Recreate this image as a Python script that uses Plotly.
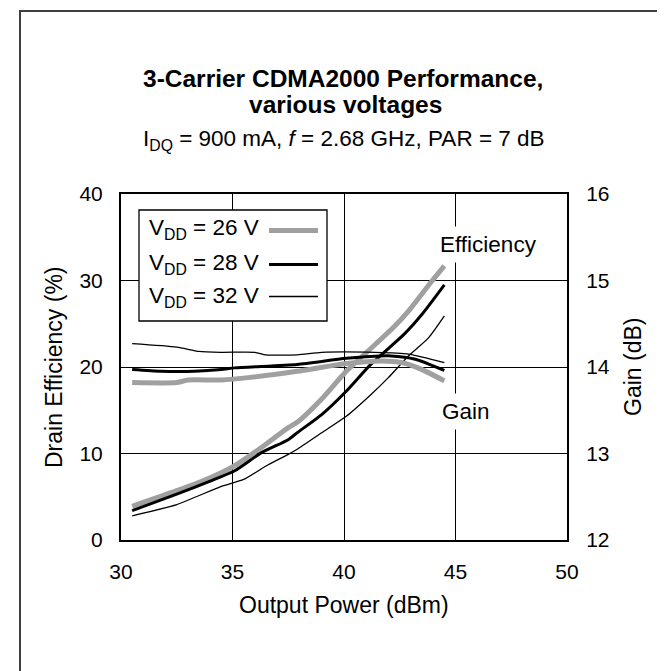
import plotly.graph_objects as go

# ---------------- data ----------------
series_names = ["V<sub>DD</sub> = 26 V", "V<sub>DD</sub> = 28 V", "V<sub>DD</sub> = 32 V"]

eff26_x = [30.5, 32.5, 34.0, 35.1, 36.3, 37.5, 37.9, 39.0, 40.1, 41.4, 42.3, 42.9, 43.9, 44.5]
eff26_y = [3.9, 5.7, 7.2, 8.6, 10.7, 13.0, 13.6, 16.3, 19.5, 22.6, 24.8, 26.5, 29.8, 31.7]

eff28_x = [30.5, 32.5, 34.0, 35.1, 36.3, 37.5, 37.9, 39.0, 40.1, 41.2, 42.7, 43.5, 44.5]
eff28_y = [3.4, 5.3, 6.8, 8.0, 10.1, 11.6, 12.4, 14.5, 17.2, 20.3, 23.8, 26.1, 29.5]

eff32_x = [30.5, 32.5, 34.5, 35.5, 36.6, 37.5, 37.9, 39.0, 40.1, 41.2, 42.0, 42.9, 43.8, 44.5]
eff32_y = [2.8, 4.1, 6.2, 7.0, 8.7, 9.9, 10.5, 12.4, 14.3, 16.8, 18.8, 21.3, 23.4, 25.9]

gain26_x = [30.5, 32.5, 33.0, 34.5, 35.8, 37.9, 40.1, 41.7, 42.6, 43.5, 44.5]
gain26_y = [13.82, 13.82, 13.85, 13.85, 13.88, 13.95, 14.04, 14.07, 14.05, 13.97, 13.84]

gain28_x = [30.5, 31.8, 33.3, 34.5, 35.1, 37.9, 40.1, 42.0, 43.2, 44.5]
gain28_y = [13.97, 13.95, 13.95, 13.97, 13.99, 14.03, 14.10, 14.13, 14.09, 13.96]

gain32_x = [30.5, 32.5, 33.5, 34.5, 36.0, 36.5, 37.9, 39.0, 41.4, 42.9, 44.5]
gain32_y = [14.27, 14.23, 14.18, 14.17, 14.17, 14.14, 14.14, 14.17, 14.17, 14.15, 14.05]

x_ticks = [30, 35, 40, 45, 50]
eff_ticks = [0, 10, 20, 30, 40]
gain_ticks = [12, 13, 14, 15, 16]

# ---------------- styles ----------------
GRAY = "#a0a0a0"
styles = [dict(color=GRAY, width=5), dict(color="black", width=3), dict(color="black", width=1.3)]
FONT = "Liberation Sans, Arial, sans-serif"
TICK = 21
LAB = 22.5

fig = go.Figure()
eff_sets = [(eff26_x, eff26_y), (eff28_x, eff28_y), (eff32_x, eff32_y)]
gain_sets = [(gain26_x, gain26_y), (gain28_x, gain28_y), (gain32_x, gain32_y)]
for name, st, (gx, gy) in zip(series_names, styles, gain_sets):
    fig.add_trace(go.Scatter(x=gx, y=gy, yaxis="y2", mode="lines",
                             line=dict(shape="spline", smoothing=0.6, **st), name=name, showlegend=False))
for name, st, (ex, ey) in zip(series_names, styles, eff_sets):
    fig.add_trace(go.Scatter(x=ex, y=ey, mode="lines",
                             line=dict(shape="spline", smoothing=0.6, **st), name=name, showlegend=False))

W, H = 665, 671
L, R, T, B = 113, 106, 186, 139
pw, ph = W - L - R, H - T - B


def px(xpix):
    return (xpix - L) / pw


def py(ypix):
    return (H - B - ypix) / ph


shapes = []
annotations = []
# outer frame
shapes.append(dict(type="rect", xref="paper", yref="paper", x0=px(12), x1=px(653), y0=py(690), y1=py(3),
                   line=dict(color="#404040", width=2), layer="below"))
# legend box
shapes.append(dict(type="rect", xref="paper", yref="paper", x0=px(131), x1=px(319), y0=py(313), y1=py(202),
                   line=dict(color="black", width=1.3), fillcolor="white", layer="above"))
rows = [221, 255.5, 289]
samples = [222.5, 256.5, 288.5]
for name, st, ry, sy in zip(series_names, styles, rows, samples):
    annotations.append(dict(xref="paper", yref="paper", x=px(139), y=py(ry), text=name, showarrow=False,
                            xanchor="left", yanchor="middle", font=dict(size=LAB, color="black", family=FONT)))
    shapes.append(dict(type="line", xref="paper", yref="paper", x0=px(261), x1=px(310), y0=py(sy), y1=py(sy),
                       line=dict(color=st["color"], width=st["width"]), layer="above"))

# curve labels (white boxes interrupt the grid line, as in the reference)
annotations.append(dict(x=46.5, y=34.2, text="Efficiency", showarrow=False, bgcolor="white", borderpad=5,
                        xanchor="center", yanchor="middle", font=dict(size=LAB, color="black", family=FONT)))
annotations.append(dict(x=45.47, y=14.8, text="Gain", showarrow=False, bgcolor="white", borderpad=5,
                        xanchor="center", yanchor="middle", font=dict(size=LAB, color="black", family=FONT)))

# titles
annotations.append(dict(xref="paper", yref="paper", x=px(335), y=py(71), yanchor="middle",
                        text="<b>3-Carrier CDMA2000 Performance,</b>",
                        showarrow=False, font=dict(size=24.5, color="black", family=FONT)))
annotations.append(dict(xref="paper", yref="paper", x=px(337), y=py(96), yanchor="middle",
                        text="<b>various voltages</b>",
                        showarrow=False, font=dict(size=24.5, color="black", family=FONT)))
annotations.append(dict(xref="paper", yref="paper", x=px(336), y=py(132), yanchor="middle",
                        text="I<sub>DQ</sub> = 900 mA, <i>f</i> = 2.68 GHz, PAR = 7 dB",
                        showarrow=False, font=dict(size=22.5, color="black", family=FONT)))

# axis titles
annotations.append(dict(xref="paper", yref="paper", x=px(336), y=py(597), yanchor="middle",
                        text="Output Power (dBm)", showarrow=False, font=dict(size=23, color="black", family=FONT)))
annotations.append(dict(xref="paper", yref="paper", x=px(46), y=py(359), xanchor="center", yanchor="middle",
                        textangle=-90, text="Drain Efficiency (%)", showarrow=False,
                        font=dict(size=23, color="black", family=FONT)))
annotations.append(dict(xref="paper", yref="paper", x=px(625), y=py(359), xanchor="center", yanchor="middle",
                        textangle=-90, text="Gain (dB)", showarrow=False,
                        font=dict(size=23, color="black", family=FONT)))

axis_common = dict(showline=True, linecolor="black", linewidth=2, ticks="", showgrid=True,
                   gridcolor="black", gridwidth=1, zeroline=False,
                   tickfont=dict(size=TICK, color="black", family=FONT))

fig.update_layout(
    width=W, height=H, margin=dict(l=L, r=R, t=T, b=B),
    paper_bgcolor="white", plot_bgcolor="white",
    font=dict(family=FONT, color="black"),
    xaxis=dict(range=[30, 50], tickvals=x_ticks, mirror=True, ticklabelstandoff=12, **axis_common),
    yaxis=dict(range=[0, 40], tickvals=eff_ticks, mirror=True, ticklabelstandoff=12, **axis_common),
    yaxis2=dict(range=[12, 16], tickvals=gain_ticks, overlaying="y", side="right", showline=True,
                linecolor="black", linewidth=2, showgrid=False, zeroline=False, ticklabelstandoff=13,
                tickfont=dict(size=TICK, color="black", family=FONT)),
    shapes=shapes, annotations=annotations, showlegend=False,
)

fig.write_html("out.html")
